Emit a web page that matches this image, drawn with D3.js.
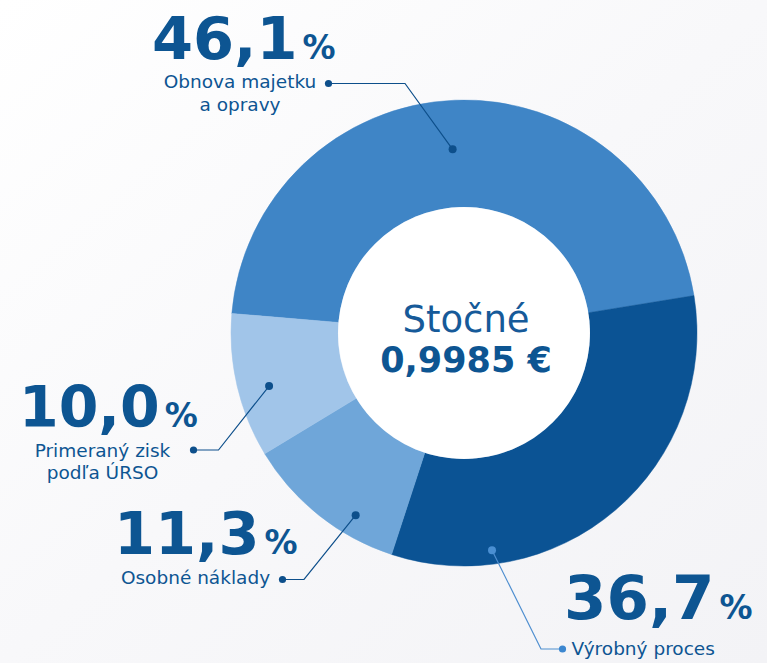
<!DOCTYPE html>
<html>
<head>
<meta charset="utf-8">
<script src="https://cdn.jsdelivr.net/npm/d3@7"></script>
<style>
  html, body { margin: 0; padding: 0; background: #ffffff; }
  svg { display: block; }
</style>
</head>
<body>
<svg id="chart" width="767" height="663"></svg>
<script>
// ---- data ----
const categories = ["Obnova majetku|a opravy", "Výrobný proces", "Osobné náklady", "Primeraný zisk|podľa ÚRSO"];
const percentLabels = ["46,1", "36,7", "11,3", "10,0"];      // printed values
const sliceValues = [46.1, 32.6, 11.3, 10.0];                 // shares as drawn by the ring angles
const centerTitle = "Stočné";
const centerValue = "0,9985 €";

// ---- styles / layout ----
const colors = ["#3f85c6", "#0b5394", "#6fa6d9", "#a1c5e9"];
const textColor = "#0d5592";
const font = "'DejaVu Sans', Verdana, sans-serif";
const W = 767, H = 663;
const cx = 464, cy = 333, rOuter = 233, rInner = 126;
const startDeg = -85.2;

// leader-line anchors: fraction along the slice angle, radius of dot
const anchorFrac = [0.492, 0.783, 0.31, 0.444];
const anchorR = [184, 219, 212, 202];
// elbow and end of each leader
const elbows = [[405, 83.5], [541, 649], [304, 579.5], [218.5, 450]];
const ends = [[328.5, 83.5], [562.5, 649], [282.5, 579.5], [193.5, 450]];
const leaderColors = ["#0d4f8b", "#4f8fd0", "#0d4f8b", "#0d4f8b"];
// label blocks: big number start x / baseline, sub-label anchor
const bigPos = [[152, 59], [564, 618.5], [114, 553.5], [19, 427]];
const bigSize = [59, 61, 59, 57];
const subPos = [[240, 88, "middle"], [571.5, 655, "start"], [195.5, 584, "middle"], [102.5, 456.5, "middle"]];
const subLineH = 22.5;

const svg = d3.select("#chart");

// background
const defs = svg.append("defs");
const grad = defs.append("linearGradient").attr("id", "bg")
  .attr("x1", "0").attr("y1", "0").attr("x2", "1").attr("y2", "1");
grad.append("stop").attr("offset", "0").attr("stop-color", "#ffffff");
grad.append("stop").attr("offset", "0.5").attr("stop-color", "#f8f8fa");
grad.append("stop").attr("offset", "1").attr("stop-color", "#f3f3f6");
svg.append("rect").attr("width", W).attr("height", H).attr("fill", "url(#bg)");

// donut
const pie = d3.pie().sort(null).value(d => d)
  .startAngle(startDeg * Math.PI / 180)
  .endAngle(startDeg * Math.PI / 180 + 2 * Math.PI);
const arcs = pie(sliceValues);
const arcGen = d3.arc().innerRadius(rInner).outerRadius(rOuter);

const g = svg.append("g").attr("transform", `translate(${cx},${cy})`);
g.selectAll("path.slice").data(arcs).join("path")
  .attr("class", "slice")
  .attr("d", arcGen)
  .attr("fill", (d, i) => colors[i])
  .attr("stroke", (d, i) => colors[i])
  .attr("stroke-width", 0.5);

g.append("circle").attr("r", rInner).attr("fill", "#ffffff").attr("opacity", 0.92);

// center text
svg.append("text").attr("x", 466).attr("y", 331.5)
  .attr("text-anchor", "middle").attr("font-family", font).attr("font-size", 37)
  .attr("fill", "#165a99").text(centerTitle);
svg.append("text").attr("x", 466).attr("y", 371.5)
  .attr("text-anchor", "middle").attr("font-family", font).attr("font-size", 35)
  .attr("font-weight", "bold").attr("fill", textColor).text(centerValue);

// leaders
arcs.forEach((a, i) => {
  const ang = a.startAngle + (a.endAngle - a.startAngle) * anchorFrac[i];
  const px = cx + anchorR[i] * Math.sin(ang);
  const py = cy - anchorR[i] * Math.cos(ang);
  const line = d3.line();
  svg.append("path")
    .attr("d", line([[px, py], elbows[i], ends[i]]))
    .attr("fill", "none").attr("stroke", leaderColors[i]).attr("stroke-width", 1.2);
  svg.append("circle").attr("cx", px).attr("cy", py).attr("r", 4).attr("fill", i === 1 ? "#4a8fd2" : "#0d4f8b");
  svg.append("circle").attr("cx", ends[i][0]).attr("cy", ends[i][1]).attr("r", 3.6).attr("fill", i === 1 ? "#3c87d0" : "#0d4f8b");
});

// labels
categories.forEach((c, i) => {
  const big = svg.append("text")
    .attr("x", bigPos[i][0]).attr("y", bigPos[i][1])
    .attr("font-family", font).attr("font-weight", "bold").attr("fill", textColor);
  big.append("tspan").attr("font-size", bigSize[i]).text(percentLabels[i]);
  big.append("tspan").attr("font-size", 33).attr("dx", 5).text("%");

  const lines = c.split("|");
  const t = svg.append("text")
    .attr("font-family", font).attr("font-size", 18.5).attr("fill", textColor)
    .attr("text-anchor", subPos[i][2]);
  lines.forEach((ln, j) => {
    t.append("tspan").attr("x", subPos[i][0]).attr("y", subPos[i][1] + j * subLineH).text(ln);
  });
});
</script>
</body>
</html>
